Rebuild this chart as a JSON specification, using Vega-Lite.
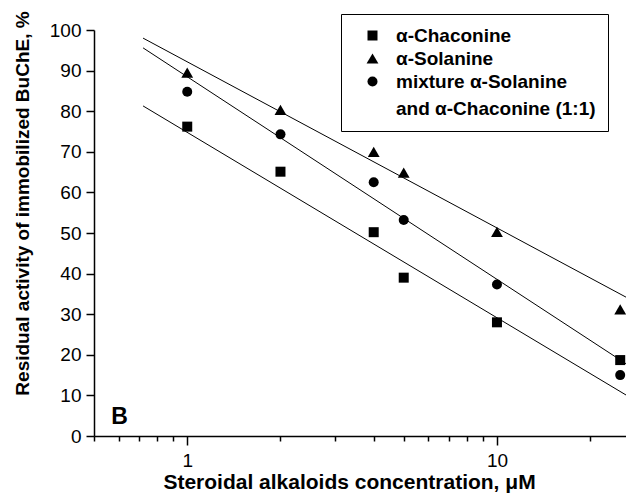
{
  "$schema": "https://vega.github.io/schema/vega-lite/v6.json",
  "width": 532,
  "height": 406,
  "autosize": {"type": "none"},
  "padding": {"left": 94, "top": 30, "right": 0, "bottom": 62},
  "background": "white",
  "config": {
    "view": {"stroke": null},
    "font": "Liberation Sans",
    "style": {"guide-label": {"lineHeight": 27}},
    "axis": {
      "domainColor": "black", "domainWidth": 1.5, "tickColor": "black", "tickWidth": 1.5,
      "labelColor": "black", "titleColor": "black", "labelFont": "Liberation Sans",
      "titleFont": "Liberation Sans", "labelFontSize": 19, "titleFontSize": 19,
      "titleFontWeight": "bold", "grid": false, "labelPadding": 5
    }
  },
  "datasets": {
    "points": [
      {"conc": 1, "activity": 76.2, "series": "α-Chaconine"},
      {"conc": 2, "activity": 65.1, "series": "α-Chaconine"},
      {"conc": 4, "activity": 50.2, "series": "α-Chaconine"},
      {"conc": 5, "activity": 39.0, "series": "α-Chaconine"},
      {"conc": 10, "activity": 28.0, "series": "α-Chaconine"},
      {"conc": 25, "activity": 18.7, "series": "α-Chaconine"},
      {"conc": 1, "activity": 89.5, "series": "α-Solanine"},
      {"conc": 2, "activity": 80.3, "series": "α-Solanine"},
      {"conc": 4, "activity": 70.0, "series": "α-Solanine"},
      {"conc": 5, "activity": 64.9, "series": "α-Solanine"},
      {"conc": 10, "activity": 50.3, "series": "α-Solanine"},
      {"conc": 25, "activity": 31.2, "series": "α-Solanine"},
      {"conc": 1, "activity": 84.8, "series": "mixture α-Solanine and α-Chaconine (1:1)"},
      {"conc": 2, "activity": 74.3, "series": "mixture α-Solanine and α-Chaconine (1:1)"},
      {"conc": 4, "activity": 62.5, "series": "mixture α-Solanine and α-Chaconine (1:1)"},
      {"conc": 5, "activity": 53.2, "series": "mixture α-Solanine and α-Chaconine (1:1)"},
      {"conc": 10, "activity": 37.3, "series": "mixture α-Solanine and α-Chaconine (1:1)"},
      {"conc": 25, "activity": 15.0, "series": "mixture α-Solanine and α-Chaconine (1:1)"}
    ],
    "fits": [
      {"conc": 0.72, "activity": 81.3, "series": "α-Chaconine"},
      {"conc": 26.1, "activity": 10.1, "series": "α-Chaconine"},
      {"conc": 0.72, "activity": 98.0, "series": "α-Solanine"},
      {"conc": 26.1, "activity": 34.2, "series": "α-Solanine"},
      {"conc": 0.72, "activity": 95.6, "series": "mixture α-Solanine and α-Chaconine (1:1)"},
      {"conc": 26.1, "activity": 17.8, "series": "mixture α-Solanine and α-Chaconine (1:1)"}
    ],
    "panel": [{"conc": 0.605, "activity": 4.8, "label": "B"}]
  },
  "layer": [
    {
      "data": {"name": "fits"},
      "mark": {"type": "line", "color": "black", "strokeWidth": 1, "clip": true},
      "encoding": {
        "x": {"field": "conc", "type": "quantitative",
          "scale": {"type": "log", "domain": [0.5, 26.1], "nice": false},
          "axis": {
            "title": "Steroidal alkaloids concentration, μM",
            "values": [0.5, 0.6, 0.7, 0.8, 0.9, 1, 2, 3, 4, 5, 6, 7, 8, 9, 10, 20],
            "labelExpr": "datum.value == 1 ? '1' : (datum.value == 10 ? '10' : '')",
            "tickSize": {"condition": {"test": "datum.value == 1 || datum.value == 10", "value": 9}, "value": 5},
            "titleFontSize": 21,
            "titleX": 255, "titleY": 52, "titleBaseline": "alphabetic", "titleAlign": "center",
            "labelPadding": 6
          }
        },
        "y": {"field": "activity", "type": "quantitative",
          "scale": {"domain": [0, 100], "nice": false},
          "axis": {
            "title": "Residual activity of immobilized BuChE, %",
            "values": [0, 5, 10, 15, 20, 25, 30, 35, 40, 45, 50, 55, 60, 65, 70, 75, 80, 85, 90, 95, 100],
            "labelExpr": "datum.value % 10 == 0 ? datum.label : ''",
            "tickSize": {"condition": {"test": "datum.value % 10 == 0", "value": 8}, "value": 4},
            "titleX": -72, "titleY": 173, "titleAngle": 270, "titleAlign": "center", "titleBaseline": "middle"
          }
        },
        "detail": {"field": "series"}
      }
    },
    {
      "data": {"name": "points"},
      "mark": {"type": "point", "filled": true, "color": "black", "opacity": 1},
      "encoding": {
        "x": {"field": "conc", "type": "quantitative"},
        "y": {"field": "activity", "type": "quantitative"},
        "size": {"field": "series", "type": "nominal",
          "scale": {"type": "ordinal", "domain": ["α-Chaconine", "α-Solanine", "mixture α-Solanine and α-Chaconine (1:1)"],
                    "range": [100, 140, 100]}
        },
        "shape": {"field": "series", "type": "nominal",
          "scale": {"domain": ["α-Chaconine", "α-Solanine", "mixture α-Solanine and α-Chaconine (1:1)"],
                    "range": ["square", "triangle-up", "circle"]},
          "legend": {
            "title": null, "orient": "none", "legendX": 247, "legendY": -16,
            "strokeColor": "black", "fillColor": "white", "padding": 12,
            "labelFont": "Liberation Sans", "labelFontSize": 19, "labelFontWeight": "bold", "labelColor": "black",
            "symbolFillColor": "black", "symbolStrokeColor": "black", "symbolOffset": 10,
            "labelOffset": 14, "rowPadding": 3, "labelLimit": 400,
            "labelExpr": "datum.label == 'mixture α-Solanine and α-Chaconine (1:1)' ? ['mixture α-Solanine', 'and α-Chaconine (1:1)'] : datum.label"
          }
        }
      }
    },
    {
      "data": {"name": "panel"},
      "mark": {"type": "text", "font": "Liberation Sans", "fontWeight": "bold", "fontSize": 23, "color": "black", "baseline": "middle", "align": "center"},
      "encoding": {
        "x": {"field": "conc", "type": "quantitative"},
        "y": {"field": "activity", "type": "quantitative"},
        "text": {"field": "label"}
      }
    }
  ]
}
